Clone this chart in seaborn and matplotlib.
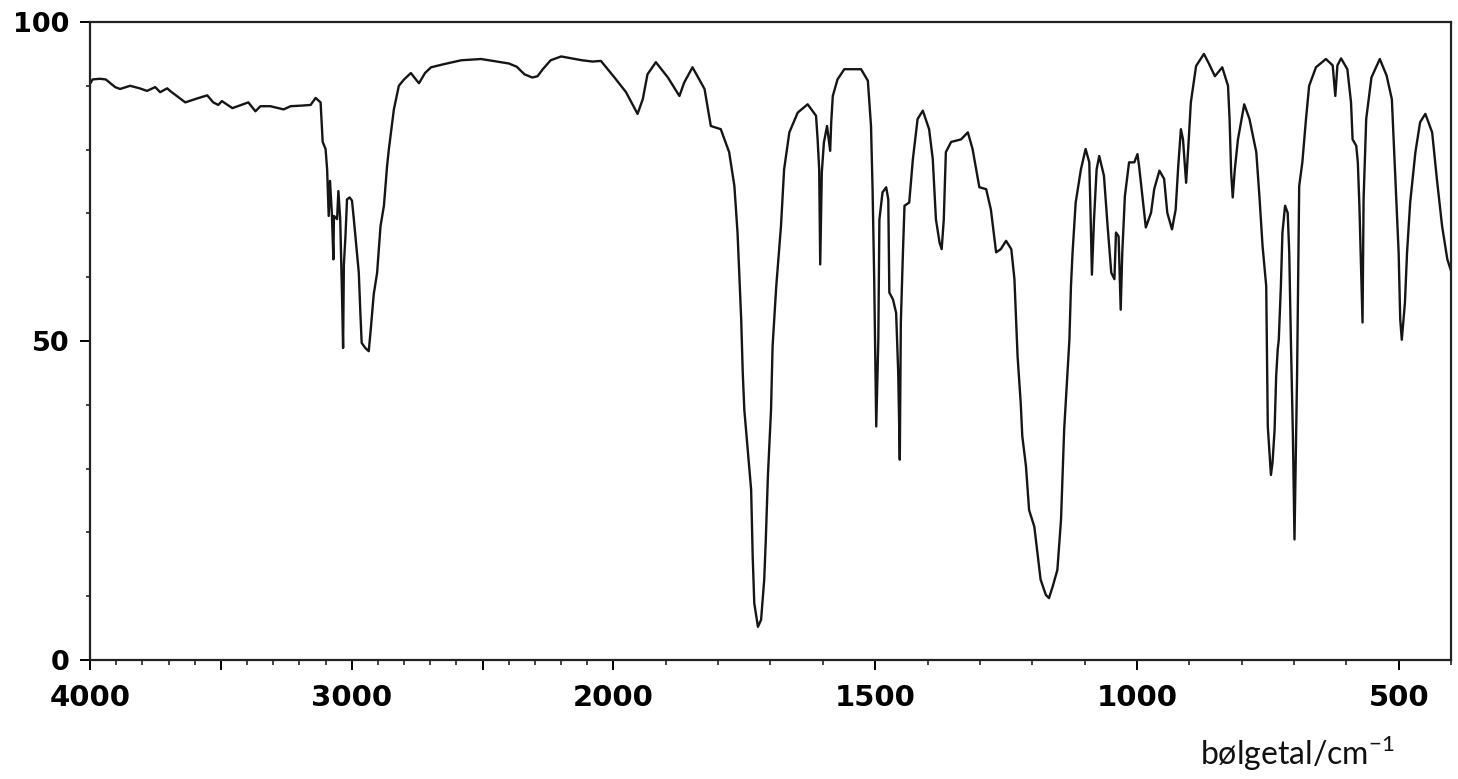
"""IR spectrum: transmittance vs wavenumber (split scale at 2000 cm-1)."""
import matplotlib
matplotlib.use('Agg')
import matplotlib.pyplot as plt
from matplotlib.ticker import FixedLocator, FixedFormatter
import numpy as np
import pandas as pd
import seaborn as sns

sns.set_style('white')
plt.rcParams['font.family'] = ['DejaVu Sans']
plt.rcParams['mathtext.fontset'] = 'custom'
plt.rcParams['mathtext.rm'] = 'Lato'

# spectrum
wavenumber = [
    4000, 3990, 3962, 3940, 3904, 3885, 3847, 3810, 3782, 3751, 3732, 3705,
    3694, 3636, 3592, 3552, 3529, 3510, 3496, 3456, 3395, 3368, 3349, 3311,
    3260, 3234, 3190, 3157, 3138, 3119, 3111, 3100, 3094, 3088, 3083, 3076,
    3070, 3068, 3056, 3051, 3044, 3037, 3033, 3030, 3024, 3018, 3008, 2999,
    2992, 2986, 2973, 2967, 2962, 2948, 2935, 2928, 2916, 2903, 2890, 2877,
    2865, 2858, 2839, 2820, 2800, 2774, 2755, 2743, 2720, 2697, 2647, 2582,
    2506, 2429, 2400, 2370, 2340, 2310, 2290, 2270, 2240, 2200, 2160, 2120,
    2080, 2048, 1998, 1976, 1954, 1944, 1935, 1919, 1896, 1874, 1865, 1849,
    1826, 1814, 1795, 1779, 1769, 1763, 1756, 1753, 1750, 1744, 1737, 1734,
    1731, 1724, 1718, 1712, 1709, 1705, 1699, 1696, 1689, 1680, 1674, 1664,
    1648, 1629, 1613, 1610, 1607, 1605, 1602, 1598, 1592, 1586, 1584, 1581,
    1572, 1559, 1527, 1514, 1508, 1505, 1502, 1498, 1494, 1492, 1486, 1479,
    1475, 1473, 1466, 1460, 1456, 1453, 1451, 1447, 1444, 1435, 1428, 1419,
    1409, 1397, 1390, 1384, 1377, 1373, 1369, 1365, 1355, 1336, 1323, 1314,
    1301, 1288, 1279, 1269, 1260, 1250, 1240, 1234, 1228, 1222, 1219, 1212,
    1206, 1196, 1190, 1184, 1174, 1168, 1161, 1152, 1145, 1142, 1139, 1133,
    1129, 1126, 1123, 1117, 1107, 1098, 1091, 1088, 1086, 1082, 1077, 1072,
    1063, 1056, 1049, 1043, 1040, 1035, 1031, 1028, 1023, 1015, 1005, 999,
    996, 989, 983, 973, 967, 957, 948, 942, 933, 926, 921, 916,
    912, 906, 901, 897, 887, 872, 862, 851, 837, 826, 823, 820,
    817, 813, 807, 795, 785, 772, 766, 760, 753, 750, 744, 741,
    737, 734, 731, 729, 725, 722, 717, 712, 709, 706, 702, 699,
    694, 690, 684, 677, 671, 658, 639, 626, 621, 617, 610, 598,
    591, 588, 581, 578, 575, 569, 567, 562, 552, 536, 523, 513,
    507, 500, 497, 494, 488, 484, 478, 468, 459, 449, 436, 427,
    417, 407, 400,
]
transmittance = [
    90.3, 91.0, 91.1, 91.0, 89.8, 89.5, 90.0, 89.6, 89.2, 89.8, 89.0, 89.6,
    89.2, 87.4, 88.0, 88.5, 87.4, 87.0, 87.6, 86.5, 87.4, 86.0, 86.8, 86.8,
    86.3, 86.8, 86.9, 87.0, 88.1, 87.4, 81.2, 80.1, 76.9, 69.6, 75.1, 70.0,
    62.8, 69.6, 69.1, 73.5, 69.1, 57.0, 48.9, 62.0, 66.4, 72.2, 72.5, 72.0,
    69.1, 66.4, 60.7, 54.4, 49.7, 48.9, 48.4, 51.5, 57.3, 60.7, 68.0, 71.2,
    77.4, 80.1, 86.3, 90.0, 91.0, 92.0, 91.0, 90.4, 92.0, 92.9, 93.4, 94.0,
    94.2, 93.7, 93.5, 93.0, 91.8, 91.3, 91.5, 92.6, 94.0, 94.6, 94.3, 94.0,
    93.8, 93.9, 91.3, 89.0, 85.6, 87.9, 91.8, 93.7, 91.3, 88.4, 90.5, 92.9,
    89.5, 83.7, 83.2, 79.6, 74.3, 67.0, 53.4, 45.0, 39.2, 33.5, 26.7, 16.2,
    8.9, 5.2, 6.3, 12.6, 18.8, 28.8, 39.2, 49.2, 58.6, 68.0, 76.9, 82.7,
    85.8, 87.1, 85.3, 81.6, 76.9, 62.0, 76.4, 81.1, 83.7, 79.8, 84.3, 88.4,
    91.0, 92.6, 92.6, 90.8, 83.7, 73.8, 60.2, 36.6, 50.2, 69.0, 73.3, 74.1,
    72.2, 57.6, 56.5, 54.4, 45.0, 31.4, 52.9, 63.9, 71.2, 71.7, 78.5, 84.8,
    86.1, 83.2, 78.5, 69.1, 65.4, 64.4, 69.0, 79.6, 81.2, 81.6, 82.7, 80.1,
    74.1, 73.8, 70.6, 63.9, 64.4, 65.7, 64.4, 59.7, 47.6, 40.3, 35.1, 30.4,
    23.5, 20.9, 16.8, 12.6, 10.2, 9.7, 11.5, 14.1, 22.0, 29.3, 36.1, 44.5,
    50.2, 58.6, 63.8, 71.7, 76.9, 80.1, 78.0, 68.0, 60.4, 69.0, 76.9, 79.0,
    75.9, 68.0, 60.7, 59.7, 67.0, 66.4, 54.9, 63.8, 72.7, 78.0, 78.0, 79.3,
    77.5, 72.2, 67.8, 70.1, 73.8, 76.7, 75.4, 70.1, 67.5, 70.6, 77.5, 83.2,
    81.6, 74.8, 81.6, 87.4, 93.1, 95.0, 93.4, 91.5, 92.9, 90.0, 84.8, 76.4,
    72.5, 76.9, 81.6, 87.1, 84.8, 79.6, 72.7, 64.9, 58.6, 36.6, 29.0, 30.9,
    36.1, 44.5, 48.7, 50.2, 58.6, 67.0, 71.2, 70.1, 63.8, 50.7, 35.0, 18.9,
    45.0, 74.3, 78.0, 84.8, 90.0, 92.9, 94.2, 93.2, 88.4, 93.2, 94.3, 92.6,
    87.4, 81.6, 80.6, 78.0, 71.2, 52.9, 72.2, 84.8, 91.3, 94.2, 91.6, 87.9,
    76.9, 63.8, 53.4, 50.2, 56.0, 63.8, 71.7, 79.6, 84.3, 85.6, 82.7, 75.4,
    68.0, 62.8, 61.0,
]

major_ticks = [4000, 3500, 3000, 2500, 2000, 1500, 1000, 500]
major_labels = ['4000', '', '3000', '', '2000', '1500', '1000', '500']

df = pd.DataFrame({'wavenumber': wavenumber, 'T': transmittance})


# usual IR chart: 4000-2000 at half the scale of 2000-400
# (increasing in w, the axis is inverted with set_xlim below)
def fwd(w):
    w = np.asarray(w, dtype=float)
    return np.where(w >= 2000, 2000 + (w - 2000) / 2.0, w)


def inv(t):
    t = np.asarray(t, dtype=float)
    return np.where(t >= 2000, 2000 + 2 * (t - 2000), t)


fig = plt.figure(figsize=(14.58, 7.79), dpi=100)
ax = fig.add_axes([90 / 1458, 1 - 660 / 779, (1451 - 90) / 1458, (660 - 22) / 779])
ax.set_xscale('function', functions=(fwd, inv))

sns.lineplot(data=df, x='wavenumber', y='T', sort=False, estimator=None,
             color='#151515', linewidth=1.7, ax=ax)

ax.set_xlim(4000, 400)
ax.set_ylim(0, 100)

ax.xaxis.set_major_locator(FixedLocator(major_ticks))
ax.xaxis.set_major_formatter(FixedFormatter(major_labels))
ax.xaxis.set_minor_locator(FixedLocator(list(range(400, 4001, 100))))
ax.yaxis.set_major_locator(FixedLocator([0, 50, 100]))
ax.yaxis.set_minor_locator(FixedLocator(list(range(0, 101, 10))))

ax.tick_params(axis='x', which='major', direction='out', length=7, width=1.4,
               pad=10, labelsize=21, colors='black', bottom=True)
ax.tick_params(axis='x', which='minor', direction='out', length=3.5, width=1.2,
               bottom=True)
ax.tick_params(axis='y', which='major', direction='out', length=7, width=1.4,
               pad=8, labelsize=19.5, colors='black', left=True)
ax.tick_params(axis='y', which='minor', direction='out', length=3, width=1.2,
               left=True)
for lbl in ax.get_xticklabels() + ax.get_yticklabels():
    lbl.set_fontweight('bold')

for side in ['left', 'right', 'top', 'bottom']:
    ax.spines[side].set_visible(True)
    ax.spines[side].set_color('#222222')
    ax.spines[side].set_linewidth(1.6)

ax.set_xlabel('')
ax.set_ylabel('')
fig.text(1200 / 1458, 1 - 765 / 779, r'bølgetal/cm$^{\mathregular{-1}}$',
         fontsize=23, family='Lato', ha='left', va='baseline', color='#111111')

fig.savefig('out.png', dpi=100)
plt.close()
